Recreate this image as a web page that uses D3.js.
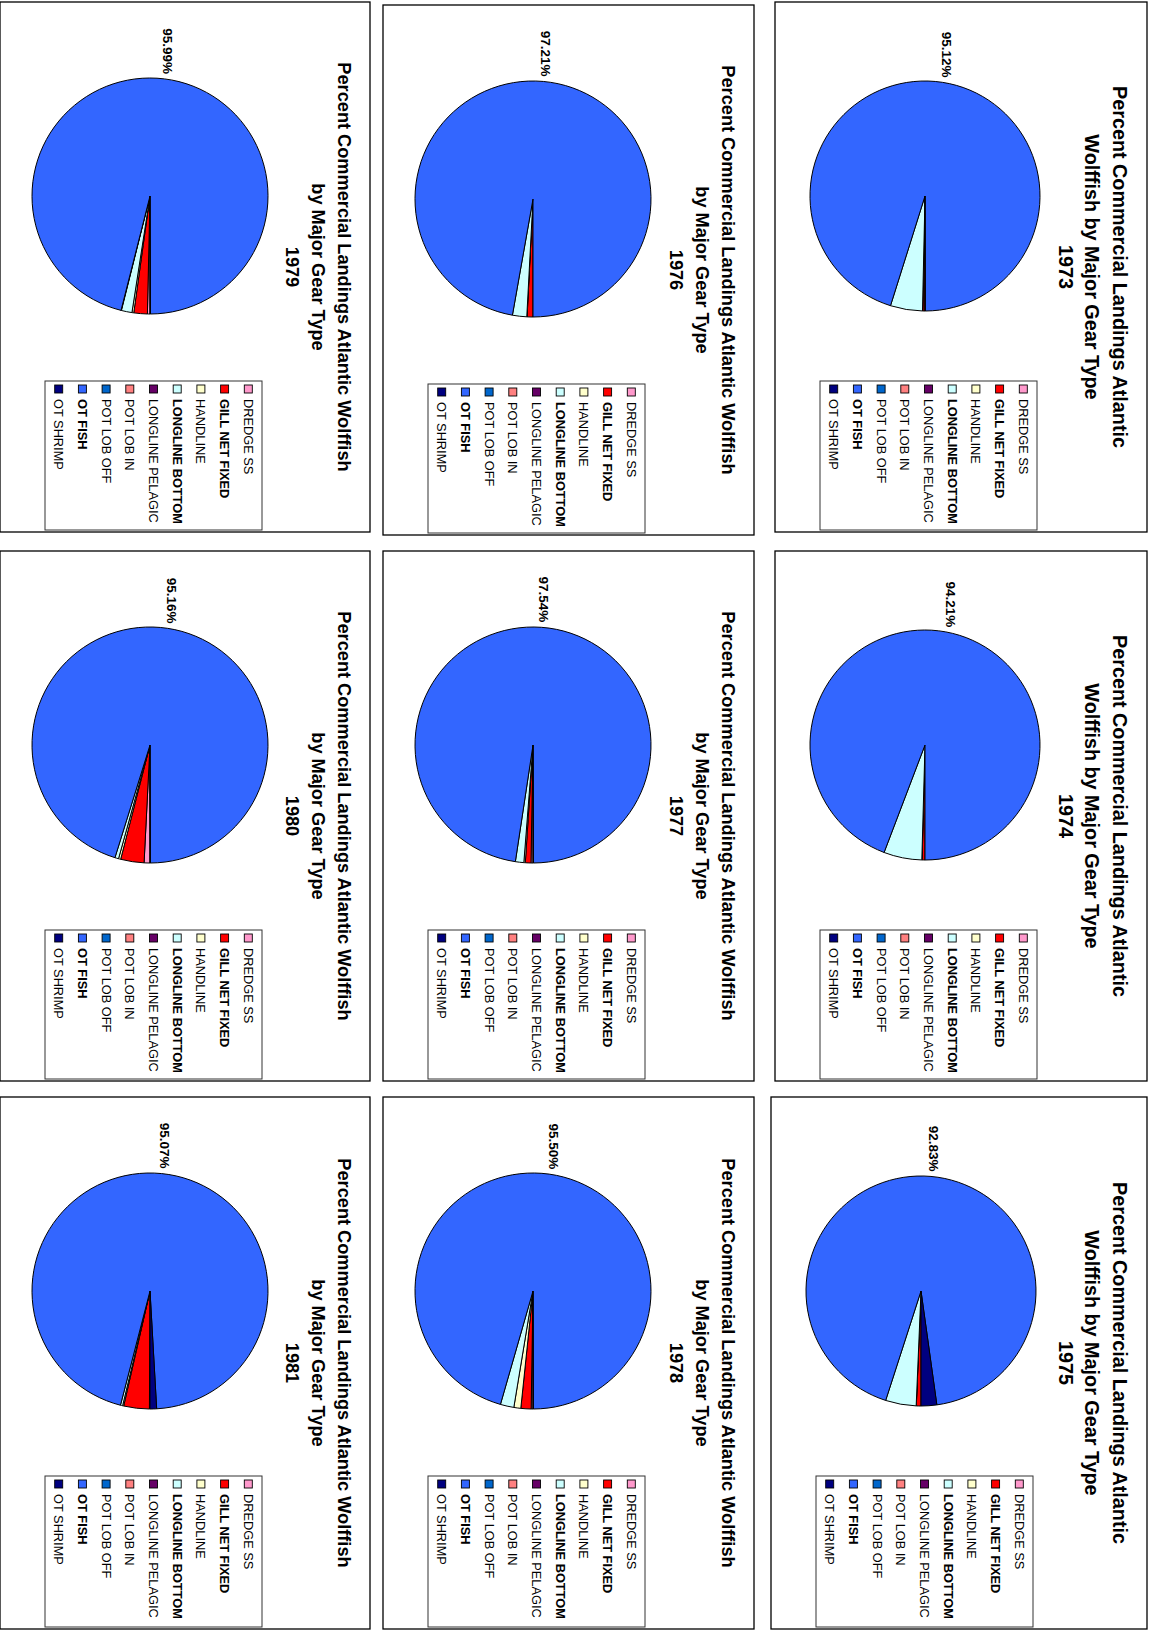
<!DOCTYPE html>
<html>
<head>
<meta charset="utf-8">
<script src="https://cdn.jsdelivr.net/npm/d3@7"></script>
<style>
  html, body { margin: 0; padding: 0; background: #fff; }
  svg { display: block; font-family: "Liberation Sans", Arial, sans-serif; }
</style>
</head>
<body>
<svg id="chart" width="1150" height="1631"></svg>
<script>
// ---------------- DATA ----------------
const years = [1973, 1974, 1975, 1976, 1977, 1978, 1979, 1980, 1981];
const gearTypes = ["DREDGE SS", "GILL NET FIXED", "HANDLINE", "LONGLINE BOTTOM",
  "LONGLINE PELAGIC", "POT LOB IN", "POT LOB OFF", "OT FISH", "OT SHRIMP"];
const gearColors = ["#FF99CC", "#FF0000", "#FFFFCC", "#CCFFFF",
  "#660066", "#FF8080", "#0066CC", "#3366FF", "#000080"];
const gearBold = [false, true, false, true, false, false, false, true, false];

// percent of landings by gear type (order as gearTypes)
const pct1973 = [0, 0.30, 0.05, 4.50, 0, 0, 0, 95.12, 0.03];
const pct1974 = [0, 0.40, 0.04, 5.35, 0, 0, 0, 94.21, 0];
const pct1975 = [0, 0.65, 0.02, 4.30, 0, 0, 0, 92.83, 2.20];
const pct1976 = [0, 0.80, 0.04, 1.95, 0, 0, 0, 97.21, 0];
const pct1977 = [0.27, 0.77, 0.20, 1.15, 0, 0, 0, 97.54, 0.07];
const pct1978 = [0.25, 1.40, 0.95, 1.85, 0, 0, 0, 95.50, 0.05];
const pct1979 = [0.35, 1.85, 0.25, 1.45, 0.05, 0, 0, 95.99, 0.06];
const pct1980 = [0.80, 3.20, 0.30, 0.50, 0, 0, 0, 95.16, 0.04];
const pct1981 = [0.08, 3.50, 0.15, 0.30, 0, 0, 0, 95.07, 0.90];
const seriesByYear = [pct1973, pct1974, pct1975, pct1976, pct1977, pct1978, pct1979, pct1980, pct1981];

const titleLine1 = "Percent Commercial Landings Atlantic";
const titleWord = "Wolffish";
const titleLine2 = "by Major Gear Type";

// ---------------- LAYOUT ----------------
// screen panel boxes [x0, y0, x1, y1]
const panels = [
  [775, 2, 1147, 532], [775, 551, 1147, 1081], [771, 1097, 1147, 1629],
  [383, 5, 754, 535], [383, 551, 754, 1081], [383, 1097, 754, 1629],
  [0, 2, 370, 532], [0, 551, 370, 1081], [0, 1097, 370, 1629]
];

const svg = d3.select("#chart");

years.forEach((year, i) => {
  const [x0, y0, x1, y1] = panels[i];
  const H = x1 - x0;   // original (unrotated) height
  const W = y1 - y0;   // original width
  const rightCol = i < 3;
  const g = svg.append("g")
    .attr("transform", `translate(${x1},${y0}) rotate(90)`);

  g.append("rect").attr("x", 0).attr("y", 0).attr("width", W).attr("height", H)
    .attr("fill", "#fff").attr("stroke", "#000").attr("stroke-width", 1.3);

  // title
  const lines = rightCol
    ? [titleLine1, titleWord + " " + titleLine2, String(year)]
    : [titleLine1 + " " + titleWord, titleLine2, String(year)];
  const tSize = rightCol ? 19.8 : 18.2;
  const tY = rightCol ? [27, 55, 81] : [26, 52, 78];
  lines.forEach((t, k) => {
    g.append("text").attr("x", W / 2).attr("y", tY[k])
      .attr("text-anchor", "middle").attr("dominant-baseline", "central")
      .attr("font-size", tSize).attr("font-weight", "bold").text(t);
  });

  // pie
  const values = seriesByYear[i];
  const data = gearTypes.map((name, k) => ({ name, value: values[k], color: gearColors[k] }));
  const cx = 194, cy = H - 150, r = rightCol ? 115 : 118;
  const pie = d3.pie().sort(null).value(d => d.value)
    .startAngle(Math.PI / 2).endAngle(Math.PI / 2 + 2 * Math.PI);
  const arcs = pie(data).filter(a => a.data.value > 0);
  const arc = d3.arc().innerRadius(0).outerRadius(r);
  const pg = g.append("g").attr("transform", `translate(${cx},${cy})`);
  pg.selectAll("path").data(arcs).join("path")
    .attr("d", arc).attr("fill", d => d.data.color)
    .attr("stroke", "#000").attr("stroke-width", 1).attr("stroke-linejoin", "round");

  // label for OT FISH
  const main = arcs.find(a => a.data.name === "OT FISH");
  const mid = (main.startAngle + main.endAngle) / 2;
  const R = r + 28;
  pg.append("text")
    .attr("x", R * Math.sin(mid)).attr("y", -R * Math.cos(mid))
    .attr("text-anchor", "middle").attr("dominant-baseline", "central")
    .attr("font-size", 13.5).attr("font-weight", "bold")
    .text(d3.format(".2f")(main.data.value) + "%");

  // legend
  const lx = 379, lw = W - 2 - 379, ly = H - 262, lh = 217;
  const lg = g.append("g");
  lg.append("rect").attr("x", lx).attr("y", ly).attr("width", lw).attr("height", lh)
    .attr("fill", "#fff").attr("stroke", "#333").attr("stroke-width", 1);
  gearTypes.forEach((name, k) => {
    const ey = ly + 13.7 + k * 23.7;
    lg.append("rect").attr("x", lx + 4).attr("y", ey - 4).attr("width", 8).attr("height", 8)
      .attr("fill", gearColors[k]).attr("stroke", "#000").attr("stroke-width", 0.9);
    lg.append("text").attr("x", lx + 18).attr("y", ey)
      .attr("dominant-baseline", "central").attr("font-size", 12.8)
      .attr("font-weight", gearBold[k] ? "bold" : "normal").text(name);
  });
});
</script>
</body>
</html>
